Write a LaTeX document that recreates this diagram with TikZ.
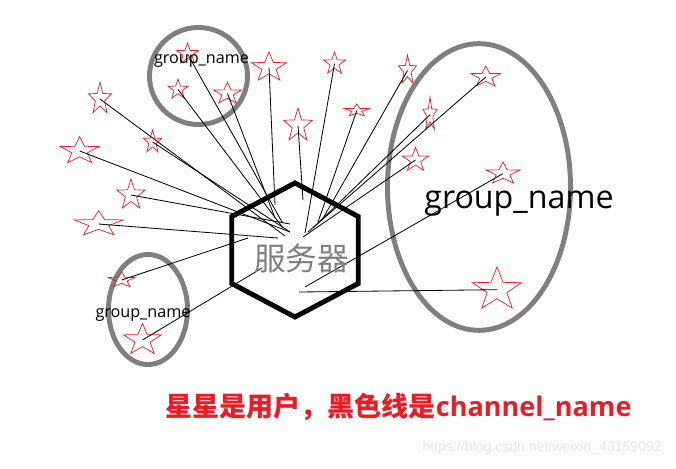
\documentclass[tikz,border=0pt]{standalone}
\usepackage{fontspec}
\setmainfont{Open Sans}
\newfontfamily\cjk{Noto Sans CJK SC}
\newfontfamily\urlfont{Liberation Sans}
\usetikzlibrary{shapes.geometric}
\definecolor{userred}{RGB}{237,28,36}
\definecolor{groupgray}{RGB}{128,128,128}

\begin{document}
\begin{tikzpicture}[
    x=0.03cm, y=-0.03cm,
    user/.style 2 args={star, star points=5, star point ratio=2.5, draw=userred, line width=0.6pt, inner sep=0pt, minimum size=#1*0.6mm, xscale=#2},
    group/.style={ellipse, draw=groupgray, line width=4.2pt, inner sep=0pt},
    channel/.style={black, line width=0.7pt},
    smalllabel/.style={font=\fontsize{13.8}{16}\selectfont},
]
\useasboundingbox (0,0) rectangle (676,468);

% groups
\node[group, minimum width=29.4mm, minimum height=29.1mm] (grouptop) at (198.5,76) {};
\node[group, minimum width=23.7mm, minimum height=33mm] (grouplow) at (148,309.5) {};
\node[group, minimum width=54.9mm, minimum height=86mm] (groupright) at (479,187) {};

% server
\node[regular polygon, regular polygon sides=6, shape border rotate=30, draw, line width=4.2pt, inner sep=0pt, minimum size=40.2mm, xscale=1.09] (server) at (295,250) {};

% users
\node[user={11}{1.05}] (u1) at (187.5,54) {};
\node[user={10.5}{1}] (u2) at (178,89.5) {};
\node[user={11.6}{1.27}] (u3) at (227.5,93.6) {};
\node[user={15.5}{1.19}] (u4) at (269,67.5) {};
\node[user={17}{0.71}] (u5) at (100,99) {};
\node[user={12}{0.79}] (u6) at (152.5,142) {};
\node[user={14.4}{1.42}] (u7) at (79.7,151) {};
\node[user={16}{0.92}] (u8) at (131,195) {};
\node[user={13.3}{1.94}] (u9) at (98.7,224) {};
\node[user={8.3}{1.71}] (u10) at (121.7,280) {};
\node[user={16.6}{1.2}] (u11) at (142.5,340) {};
\node[user={11.6}{1}] (u12) at (334.5,63.6) {};
\node[user={17.7}{0.86}] (u13) at (298,125.7) {};
\node[user={6.6}{1.98}] (u14) at (356.8,110.6) {};
\node[user={15.5}{0.61}] (u15) at (407.5,70.5) {};
\node[user={17.7}{0.42}] (u16) at (430,114.7) {};
\node[user={12.7}{1.08}] (u17) at (415.5,160) {};
\node[user={11}{1.43}] (u18) at (485.8,77) {};
\node[user={11.6}{1.54}] (u19) at (503,173.6) {};
\node[user={22.7}{1.14}] (u20) at (497,289.7) {};

% channel ends inside the server
\coordinate (c1) at (282,222);
\coordinate (c2) at (283,228);
\coordinate (c3) at (275,218);
\coordinate (c4) at (275,205);
\coordinate (c5) at (285,236);
\coordinate (c6) at (290,232);
\coordinate (c7) at (290,232);
\coordinate (c8) at (290,224);
\coordinate (c9) at (278,238);
\coordinate (c10) at (248,238);
\coordinate (c11) at (262,268);
\coordinate (c12) at (305,233);
\coordinate (c13) at (303,200);
\coordinate (c14) at (318,222);
\coordinate (c15) at (322,220);
\coordinate (c16) at (313,228);
\coordinate (c17) at (303,237);
\coordinate (c18) at (308,232);
\coordinate (c19) at (305,287);
\coordinate (c20) at (299,292);

% channels
\foreach \i in {1,...,20}
    \draw[channel] (u\i.center) -- (c\i);

% labels
\node[smalllabel] (toplabel) at (201.5,61) {group\_name};
\node[smalllabel] (lowlabel) at (143,315) {group\_name};
\node[font=\fontsize{27.5}{32}\selectfont] (rightlabel) at (519,204) {group\_name};
\node[font=\cjk\fontsize{27}{32}\selectfont, text=groupgray] (servername) at (301.5,258) {服务器};

\node[anchor=west, text=userred, font=\bfseries\fontsize{23.1}{26}\selectfont, inner sep=0pt] (note) at (165,407) {{\cjk 星星是用户，黑色线是}channel\_name};
\node[anchor=east, text=black!10, font=\urlfont\fontsize{12}{14}\selectfont, inner sep=0pt] (mark) at (662,448) {https://blog.csdn.net/weixin\_43159092};

\end{tikzpicture}
\end{document}
